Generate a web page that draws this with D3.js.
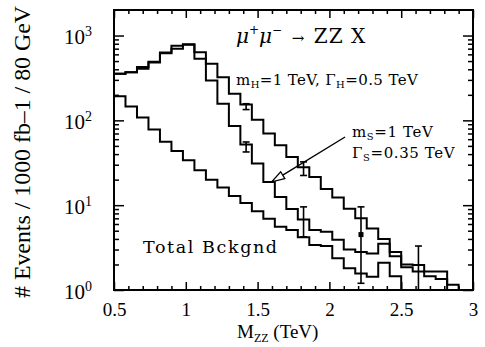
<!DOCTYPE html>
<html><head><meta charset="utf-8">
<script src="https://cdn.jsdelivr.net/npm/d3@7"></script>
<style>body{margin:0;background:#fff}svg{display:block}</style>
</head><body>
<svg id="c" width="485" height="347"></svg>
<script>
// ---- data (80 GeV bins starting at 0.5 TeV) ----
const binStart = 0.5, binWidth = 0.08;
const higgs = [354, 370, 425, 490, 630, 760, 790, 637, 464, 323, 206, 154, 102, 70, 51, 37, 28, 21.5, 15.5, 12.3, 9.1, 7.0, 5.3, 4.0, 2.8, 2.0, 1.97, 1.65, 1.65];
const scalar = [354, 370, 405, 480, 620, 700, 780, 532, 296, 157, 86, 52, 31, 18.8, 12.5, 9.0, 6.8, 5.1, 4.85, 3.9, 3.0, 2.8, 2.7, 3.5, 2.5, 1.85, 1.65, 1.45, 1.35, 1.15];
const background = [192, 146, 108, 78, 56, 43.5, 33.8, 25.8, 20, 16.2, 12.8, 10.6, 8.5, 6.9, 5.55, 5.1, 4.2, 3.4, 3.3, 2.36, 1.8, 1.57, 1.43, 2.1, 1.45];
const errX  = [1.42, 1.42, 1.82, 1.82, 2.22, 2.62];
const errLo = [134, 42.4, 22.4, 4.24, 1.2, 1.0];
const errHi = [157, 55.6, 32.4, 9.55, 9.55, 3.3];
const markX = [2.22], markY = [4.5];
const xTickLabels = [0.5, 1, 1.5, 2, 2.5, 3];
const yTickLabels = [1, 10, 100, 1000];
const arrowFrom = [2.109, 63.6], arrowTo = [1.598, 18.8];

// ---- layout ----
const W = 485, H = 347;
const m = {l: 114, r: 12, t: 10, b: 57};
const svg = d3.select("#c");
const x = d3.scaleLinear().domain([0.5, 3]).range([m.l, W - m.r]);
const y = d3.scaleLog().domain([1, 2000]).range([H - m.b, m.t]);
const serif = "'Liberation Serif', 'Times New Roman', serif";
const tw = "'DejaVu Serif', serif";

// histograms
function stepPts(vals) {
  const pts = vals.map((v, i) => [binStart + i * binWidth, v]);
  const end = binStart + vals.length * binWidth;
  pts.push([end, vals[vals.length - 1]]);
  pts.push([end, 1]);
  return pts;
}
const line = d3.line().x(d => x(d[0])).y(d => y(d[1])).curve(d3.curveStepAfter);
const g = svg.append("g");
[higgs, scalar, background].forEach(s => {
  g.append("path").attr("d", line(stepPts(s))).attr("fill", "none")
    .attr("stroke", "#000").attr("stroke-width", 2);
});

// error bars
errX.forEach((ex, i) => {
  const cx = x(ex);
  g.append("line").attr("x1", cx).attr("x2", cx).attr("y1", y(errLo[i])).attr("y2", y(errHi[i]))
    .attr("stroke", "#000").attr("stroke-width", 1.6);
  [errLo[i], errHi[i]].forEach(v => {
    if (v <= 1) return;
    g.append("line").attr("x1", cx - 3.5).attr("x2", cx + 3.5).attr("y1", y(v)).attr("y2", y(v))
      .attr("stroke", "#000").attr("stroke-width", 1.6);
  });
});
markX.forEach((mx, i) => {
  g.append("rect").attr("x", x(mx) - 2.5).attr("y", y(markY[i]) - 2.5).attr("width", 5).attr("height", 5).attr("fill", "#000");
});

// arrow
{
  const x1 = x(arrowFrom[0]), y1 = y(arrowFrom[1]), x2 = x(arrowTo[0]), y2 = y(arrowTo[1]);
  const ang = Math.atan2(y2 - y1, x2 - x1);
  const L = 13, hw = 4;
  const bx = x2 - L * Math.cos(ang), by = y2 - L * Math.sin(ang);
  g.append("line").attr("x1", x1).attr("y1", y1).attr("x2", bx).attr("y2", by).attr("stroke", "#000").attr("stroke-width", 1.4);
  const p = [[x2, y2], [bx + hw * Math.sin(ang), by - hw * Math.cos(ang)], [bx - hw * Math.sin(ang), by + hw * Math.cos(ang)]];
  g.append("polygon").attr("points", p.map(q => q.join(",")).join(" ")).attr("fill", "#fff").attr("stroke", "#000").attr("stroke-width", 1.3);
}

// axes (ticks inward on all sides)
const xMinor = d3.range(6, 30).map(d => d / 10).filter(d => Math.abs(d * 2 - Math.round(d * 2)) > 1e-6);
const yMinor = [];
[1, 10, 100, 1000].forEach(dec => { for (let k = 2; k <= 9; k++) if (dec * k < 2000) yMinor.push(dec * k); });
const ax = svg.append("g").attr("font-family", serif);
function styleAxis(sel) { sel.select(".domain").remove(); sel.selectAll("line").attr("stroke", "#000").attr("stroke-width", 1.5); }
ax.append("g").attr("transform", `translate(0,${H - m.b})`).call(d3.axisBottom(x).tickValues(xMinor).tickSize(-4).tickFormat("")).call(styleAxis);
ax.append("g").attr("transform", `translate(0,${m.t})`).call(d3.axisTop(x).tickValues(xMinor).tickSize(-4).tickFormat("")).call(styleAxis);
ax.append("g").attr("transform", `translate(0,${m.t})`).call(d3.axisTop(x).tickValues(xTickLabels).tickSize(-8).tickFormat("")).call(styleAxis);
const xb = ax.append("g").attr("transform", `translate(0,${H - m.b})`)
  .call(d3.axisBottom(x).tickValues(xTickLabels).tickSize(-8).tickPadding(13).tickFormat(d => String(d))).call(styleAxis);
xb.selectAll("text").attr("font-size", 19).attr("fill", "#000").attr("font-family", serif);

ax.append("g").attr("transform", `translate(${m.l},0)`).call(d3.axisLeft(y).tickValues(yMinor).tickSize(-5).tickFormat("")).call(styleAxis);
ax.append("g").attr("transform", `translate(${W - m.r},0)`).call(d3.axisRight(y).tickValues(yMinor).tickSize(-5).tickFormat("")).call(styleAxis);
ax.append("g").attr("transform", `translate(${W - m.r},0)`).call(d3.axisRight(y).tickValues(yTickLabels).tickSize(-10).tickFormat("")).call(styleAxis);
const yl = ax.append("g").attr("transform", `translate(${m.l},0)`)
  .call(d3.axisLeft(y).tickValues(yTickLabels).tickSize(-10).tickPadding(22).tickFormat("")).call(styleAxis);
yl.selectAll(".tick text").each(function(d) {
  const t = d3.select(this).attr("dy", null).attr("fill", "#000").attr("font-family", serif);
  t.append("tspan").attr("font-size", 21).attr("dy", 8).text("10");
  t.append("tspan").attr("font-size", 14).attr("dy", -8).text(String(Math.round(Math.log10(d))));
});

// frame
svg.append("rect").attr("x", m.l).attr("y", m.t).attr("width", W - m.l - m.r).attr("height", H - m.t - m.b)
  .attr("fill", "none").attr("stroke", "#000").attr("stroke-width", 2);

// axis titles
const xt = svg.append("text").attr("x", 237).attr("y", 338).attr("font-family", serif).attr("font-size", 19).attr("fill", "#000");
xt.append("tspan").text("M");
xt.append("tspan").attr("font-size", 12).attr("dy", 4).text("ZZ");
xt.append("tspan").attr("dy", -4).text(" (TeV)");

svg.append("text").attr("transform", "translate(30,152) rotate(-90)").attr("text-anchor", "middle")
  .attr("font-family", serif).attr("font-size", 24).attr("fill", "#000")
  .attr("textLength", 292).attr("lengthAdjust", "spacingAndGlyphs")
  .text("# Events / 1000 fb\u20131 / 80 GeV");

// annotations
const ti = svg.append("text").attr("x", x(1.35)).attr("y", 43).attr("font-family", tw).attr("font-size", 20).attr("fill", "#000");
ti.append("tspan").attr("font-style", "italic").text("\u03bc");
ti.append("tspan").attr("font-size", 12).attr("dy", -9).text("+");
ti.append("tspan").attr("font-style", "italic").attr("dy", 9).text("\u03bc");
ti.append("tspan").attr("font-size", 12).attr("dy", -9).text("\u2212");
ti.append("tspan").attr("dy", 9).attr("font-size", 15).text("\u00a0\u00a0\u2192\u00a0\u00a0");
ti.append("tspan").attr("letter-spacing", 1).text("ZZ X");

function sub(sel, parts) {
  parts.forEach(p => {
    if (p.s) sel.append("tspan").attr("font-size", 10).attr("dy", 3).text(p.s);
    else sel.append("tspan").attr("dy", p.after ? -3 : 0).text(p.t);
  });
}
const t1 = svg.append("text").attr("x", 236).attr("y", 85).attr("font-family", tw).attr("font-size", 15).attr("letter-spacing", 0.4).attr("fill", "#000");
sub(t1, [{t: "m"}, {s: "H"}, {t: "=1 TeV, \u0393", after: true}, {s: "H"}, {t: "=0.5 TeV", after: true}]);
const t2 = svg.append("text").attr("x", 352).attr("y", 137).attr("font-family", tw).attr("font-size", 15).attr("letter-spacing", 0.6).attr("fill", "#000");
sub(t2, [{t: "m"}, {s: "S"}, {t: "=1 TeV", after: true}]);
const t3 = svg.append("text").attr("x", 352).attr("y", 158).attr("font-family", tw).attr("font-size", 15).attr("letter-spacing", 0.6).attr("fill", "#000");
sub(t3, [{t: "\u0393"}, {s: "S"}, {t: "=0.35 TeV", after: true}]);
svg.append("text").attr("x", 143).attr("y", 253).attr("font-family", tw).attr("font-size", 17.5).attr("fill", "#000")
  .attr("textLength", 134).attr("lengthAdjust", "spacing").text("Total Bckgnd");
</script>
</body></html>
